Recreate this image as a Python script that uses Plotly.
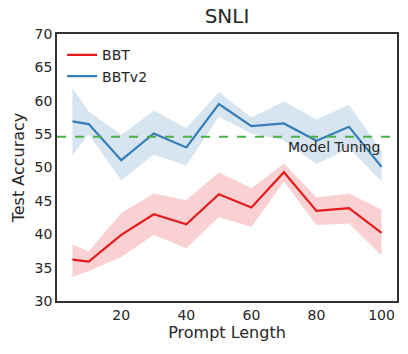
import plotly.graph_objects as go

prompt_len = [5, 10, 20, 30, 40, 50, 60, 70, 80, 90, 100]

bbt_mean = [36.2, 35.9, 39.9, 43.0, 41.5, 46.0, 44.0, 49.3, 43.5, 43.9, 40.2]
bbt_upper = [38.5, 37.4, 43.2, 46.1, 45.1, 49.3, 46.9, 50.6, 45.5, 46.1, 43.7]
bbt_lower = [33.6, 34.5, 36.6, 39.9, 37.9, 42.6, 41.1, 47.9, 41.4, 41.6, 36.8]

bbtv2_mean = [56.9, 56.5, 51.1, 55.1, 53.0, 59.5, 56.2, 56.6, 54.0, 56.1, 50.1]
bbtv2_upper = [61.9, 58.4, 54.9, 58.5, 55.9, 61.3, 57.5, 59.9, 57.2, 59.4, 52.5]
bbtv2_lower = [51.8, 55.0, 48.1, 51.9, 50.3, 57.6, 55.1, 54.1, 50.5, 52.9, 47.9]

model_tuning = 54.6

red = "#e41a1c"
blue = "#377eb8"
green = "#4daf4a"

fig = go.Figure()


def add_band(x, lo, hi, rgba):
    fig.add_trace(go.Scatter(x=x, y=hi, mode="lines", line=dict(width=0),
                             showlegend=False, hoverinfo="skip"))
    fig.add_trace(go.Scatter(x=x, y=lo, mode="lines", line=dict(width=0),
                             fill="tonexty", fillcolor=rgba,
                             showlegend=False, hoverinfo="skip"))


add_band(prompt_len, bbtv2_lower, bbtv2_upper, "rgba(55,126,184,0.2)")
add_band(prompt_len, bbt_lower, bbt_upper, "rgba(228,26,28,0.2)")

fig.add_trace(go.Scatter(x=prompt_len, y=bbt_mean, mode="lines", name="BBT",
                         line=dict(color=red, width=2.2)))
fig.add_trace(go.Scatter(x=prompt_len, y=bbtv2_mean, mode="lines", name="BBTv2",
                         line=dict(color=blue, width=2.2)))

fig.add_shape(type="line", xref="paper", x0=0, x1=1, yref="y",
              y0=model_tuning, y1=model_tuning,
              line=dict(color=green, width=2, dash="dash"))
fig.add_annotation(x=100, y=model_tuning, text="Model Tuning", showarrow=False,
                   xanchor="right", yanchor="top", yshift=0,
                   font=dict(size=14, color="#262626"))

fig.update_layout(
    width=408, height=354,
    margin=dict(l=57, r=11, t=34, b=53),
    plot_bgcolor="white", paper_bgcolor="white",
    font=dict(family="DejaVu Sans", color="#262626"),
    title=dict(text="SNLI", x=0.5, xref="paper", xanchor="center",
               y=0.955, yanchor="middle", font=dict(size=20)),
    legend=dict(x=0.015, y=0.98, xanchor="left", yanchor="top",
                traceorder="normal", bgcolor="rgba(0,0,0,0)",
                font=dict(size=14)),
    xaxis=dict(range=[0.25, 104.75], tickvals=[20, 40, 60, 80, 100],
               showgrid=False, zeroline=False, showline=True, mirror=True,
               linecolor="#333", linewidth=1.5, ticks="", tickfont=dict(size=14),
               automargin=False,
               title=dict(text="Prompt Length", font=dict(size=16), standoff=4)),
    yaxis=dict(range=[30, 70], dtick=5, showgrid=False, zeroline=False,
               showline=True, mirror=True, linecolor="#333", linewidth=1.5,
               ticks="", tickfont=dict(size=14), automargin=False,
               title=dict(text="Test Accuracy", font=dict(size=16), standoff=6)),
)

fig.write_html("out.html", config={"displayModeBar": False},
               post_script="document.body.style.margin='0';")
